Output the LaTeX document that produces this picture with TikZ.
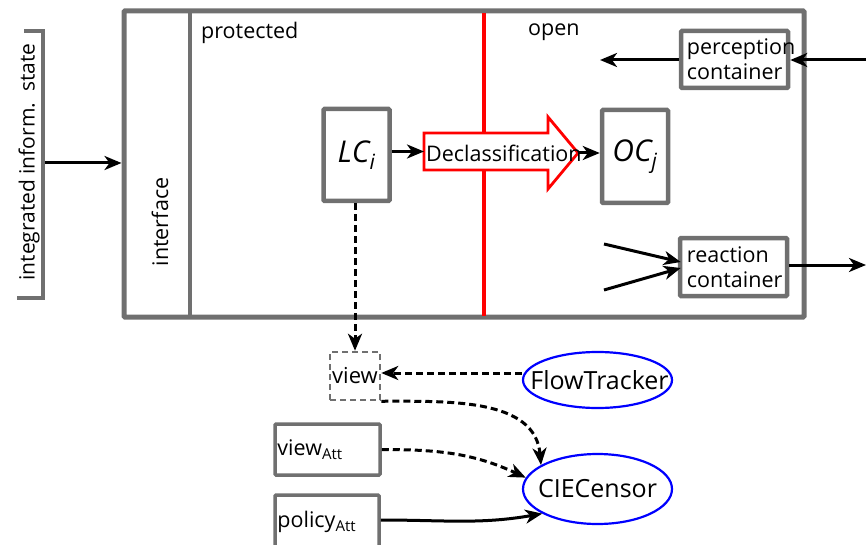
\documentclass[tikz,border=0pt]{standalone}
\usepackage{fontspec}
\setmainfont{Open Sans}
\usetikzlibrary{arrows.meta,shapes.geometric,calc}
\definecolor{boxgray}{RGB}{112,112,112}
\definecolor{flowblue}{RGB}{0,0,255}
\definecolor{declred}{RGB}{255,0,0}
\begin{document}
\begin{tikzpicture}[x=1pt,y=-1pt,
  txt/.style={font=\fontsize{21.5}{25}\selectfont, inner sep=0pt},
  big/.style={font=\fontsize{25}{28}\selectfont, inner sep=0pt},
  gbox/.style={draw=boxgray, line width=4.5pt, rounded corners=1pt, inner sep=0pt, fill=white},
  dbox/.style={draw=boxgray, line width=2.5pt, dash pattern=on 6pt off 4pt, inner sep=0pt},
  proc/.style={draw=flowblue, line width=2.2pt, ellipse, inner sep=0pt},
  flow/.style={draw=black, line width=3pt, -{Stealth[length=17pt,width=14pt,inset=5pt]}},
  dflow/.style={flow, line width=3pt, dash pattern=on 7pt off 4pt},
]
\useasboundingbox (0,0) rectangle (866,545);
\clip (0,0) rectangle (866,545);

% outer frame with interface column and protected/open split
\node[gbox, line width=5pt, fill=none, minimum width=680, minimum height=306] (frame) at (464,164) {};
\draw[boxgray, line width=4.5pt] (190,13) -- (190,315);
\node[txt, rotate=90] (iface) at (160,222) {interface};
\node[txt, anchor=west] (prot) at (201,32.5) {protected};
\node[txt, anchor=west] (open) at (528,32.5) {open};
\draw[declred, line width=3.8pt] (484,13) -- (484,316);

% integrated information state bracket
\draw[boxgray, line width=3.5pt] (24,31) -- (43,31) -- (43,298) -- (17,298);
\node[font=\fontsize{21}{24}\selectfont, inner sep=0pt, rotate=90] (ist) at (29,162) {integrated inform.\ \ state};
\coordinate (istout) at (45,163);
\draw[flow] (istout) -- (frame.west |- istout);

% containers
\node[gbox, minimum width=66, minimum height=92] (lc) at (356.5,155)
  {\fontsize{30}{31}\selectfont\itshape LC\textsubscript{i}};
\node[gbox, minimum width=66, minimum height=93] (oc) at (635,156.5)
  {\fontsize{30}{31}\selectfont\itshape OC\textsubscript{j}};

% declassification arrow across the boundary
\coordinate (dw) at (424,151.5);
\coordinate (de) at (578,153);
\draw[declred, line width=2.8pt, fill=white, line join=miter]
  (424,133) -- (548,133) -- (548,117) -- (de) -- (548,189) -- (548,170) -- (424,170) -- cycle;
\node[txt, anchor=west] (decl) at (426,153) {Declassification};
\draw[flow] (lc.east |- dw) -- (dw);
\draw[flow] (de) -- (oc.west |- de);

% perception and reaction containers
\node[gbox, minimum width=107, minimum height=57] (perc) at (734.5,59.5) {};
\node[txt, anchor=west, align=left] at ($(perc.west)+(8,0)$) {perception\\container};
\node[gbox, minimum width=107, minimum height=58] (reac) at (733.5,267) {};
\node[txt, anchor=west, align=left] at ($(reac.west)+(9,0)$) {reaction\\container};
\coordinate (pin) at (866,60);
\coordinate (pout) at (600,60);
\coordinate (rout) at (866,265);
\coordinate (rin1) at (604,244);
\coordinate (rin2) at (604,290);
\draw[flow] (pin) -- (perc.east |- pin);
\draw[flow] (perc.west |- pout) -- (pout);
\draw[flow] (reac.east |- rout) -- (rout);
\draw[flow] (rin1) -- ($(reac.west)+(3,-5)$);
\draw[flow] (rin2) -- ($(reac.west)+(3,1)$);

% view, attacker inputs and the monitors
\node[dbox, txt, font=\fontsize{22}{24}\selectfont, minimum width=50, minimum height=48] (view) at (355,376) {view};
\node[proc, minimum width=149, minimum height=56] (ft) at (597.5,380) {};
\node[big] at ([xshift=2pt]ft.center) {FlowTracker};
\node[proc, minimum width=149, minimum height=70] (cie) at (597.5,489) {};
\node[big] at (cie) {CIECensor};
\node[gbox, line width=3.5pt, minimum width=105, minimum height=51] (vatt) at (327.5,449.5) {};
\node[txt, anchor=west] at ($(vatt.west)+(4,0)$) {view\textsubscript{Att}};
\node[gbox, line width=3.5pt, minimum width=104, minimum height=54] (patt) at (327,522) {};
\node[txt, anchor=west] at ($(patt.west)+(4,0)$) {policy\textsubscript{Att}};

\draw[dflow] (view.north |- lc.south) -- (view.north);
\draw[dflow] ($(ft.west)+(0,-7)$) -- ($(view.east)+(0,-3)$);
\draw[dflow] (view.south east) to[out=0,in=95] (cie.157);
\draw[dflow] (vatt.east) to[out=0,in=155] (cie.171);
\draw[flow] ($(patt.east)+(0,-2)$) to[out=0,in=190] (cie.204);
\end{tikzpicture}
\end{document}
